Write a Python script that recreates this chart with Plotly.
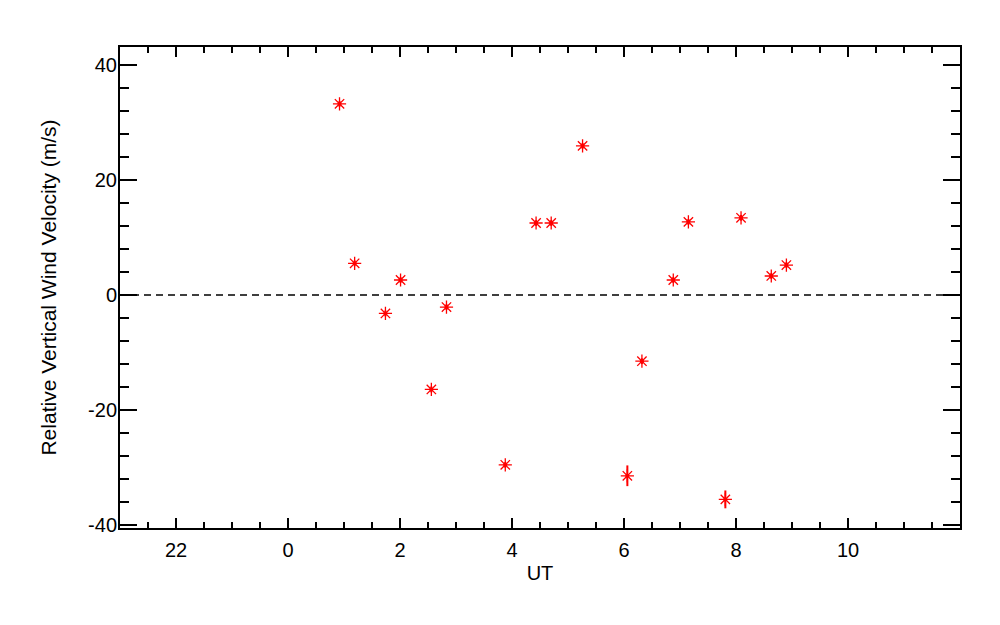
import plotly.graph_objects as go

# Data (UT hours; negative = previous day)
ut_hours = [0.92, 1.19, 1.74, 2.01, 2.56, 2.83, 3.88, 4.43, 4.70, 5.26,
            6.06, 6.32, 6.88, 7.15, 7.81, 8.09, 8.63, 8.90]
velocity = [33.2, 5.5, -3.2, 2.6, -16.4, -2.1, -29.5, 12.5, 12.5, 25.9,
            -31.4, -11.5, 2.6, 12.7, -35.5, 13.4, 3.3, 5.2]
vel_error = [0.5, 0.5, 0.5, 0.5, 0.5, 0.5, 0.5, 0.5, 0.5, 0.5,
             1.8, 0.5, 0.5, 0.5, 1.55, 0.5, 0.5, 0.5]

x_tickvals = [-2, 0, 2, 4, 6, 8, 10]
x_ticktext = ["22", "0", "2", "4", "6", "8", "10"]
y_tickvals = [-40, -20, 0, 20, 40]
y_ticktext = ["-40", "-20", "0", "20", "40"]

x_range = [-3.0, 12.0]
y_range = [-40.47, 43.07]

FONT = "Liberation Sans"
FS = 20

fig = go.Figure()

fig.add_trace(go.Scatter(
    x=ut_hours, y=velocity, mode="markers",
    marker=dict(symbol="asterisk-open", size=11, color="red",
                line=dict(color="red", width=1.3)),
    error_y=dict(type="data", array=vel_error, visible=True,
                 color="red", thickness=2, width=0),
    showlegend=False, hoverinfo="skip",
))
fig.add_trace(go.Scatter(
    x=ut_hours, y=velocity, mode="markers",
    marker=dict(symbol="circle", size=4, color="red"),
    showlegend=False, hoverinfo="skip",
))

# dashed zero line
fig.add_shape(type="line", xref="paper", yref="y", x0=0, x1=1, y0=0, y1=0,
              line=dict(color="black", width=1.5, dash="7px,5px"), layer="below")

fig.update_layout(
    width=1000, height=625,
    margin=dict(l=112, r=48, t=39, b=105),
    paper_bgcolor="white", plot_bgcolor="white",
    font=dict(family=FONT, size=FS, color="black"),
    xaxis=dict(
        range=x_range, tickvals=x_tickvals, ticktext=x_ticktext,
        ticks="inside", ticklen=10, tickwidth=1.5, tickcolor="black",
        minor=dict(dtick=0.5, ticks="inside", ticklen=6, tickwidth=1.5, tickcolor="black"),
        showline=True, linecolor="black", linewidth=2, mirror="allticks",
        showgrid=False, zeroline=False,
        ticklabelstandoff=3,
        title=dict(text="UT", font=dict(family=FONT, size=FS), standoff=6),
        tickfont=dict(family=FONT, size=FS),
    ),
    yaxis=dict(
        range=y_range, tickvals=y_tickvals, ticktext=y_ticktext,
        ticks="inside", ticklen=17, tickwidth=1.5, tickcolor="black",
        minor=dict(dtick=4, ticks="inside", ticklen=9, tickwidth=1.5, tickcolor="black"),
        showline=True, linecolor="black", linewidth=2, mirror="allticks",
        showgrid=False, zeroline=False,
        ticklabelstandoff=-3,
        title=dict(text="Relative Vertical Wind Velocity (m/s)",
                   font=dict(family=FONT, size=21), standoff=26),
        tickfont=dict(family=FONT, size=FS),
    ),
)

fig.write_html("out.html")
